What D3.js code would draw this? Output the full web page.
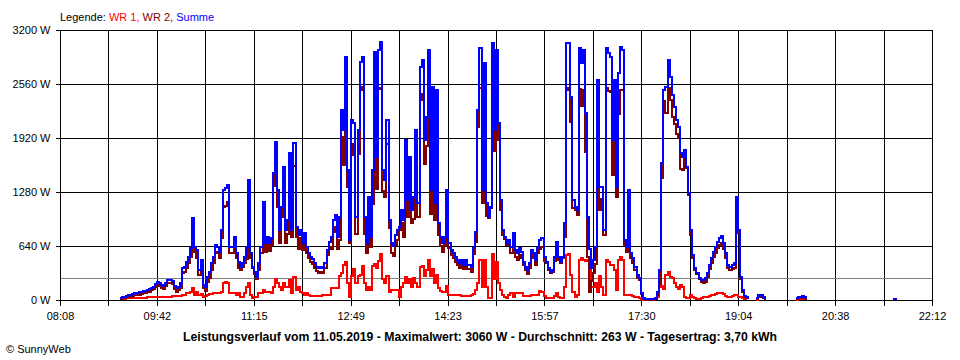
<!DOCTYPE html>
<html>
<head>
<meta charset="utf-8">
<script src="https://cdn.jsdelivr.net/npm/d3@7"></script>
<style>
  html, body { margin: 0; padding: 0; background: #ffffff; }
  svg { display: block; font-family: "Liberation Sans", Arial, sans-serif; }
</style>
</head>
<body>
<script>
// ---- data ----
const timeLabels = ["08:08","09:42","11:15","12:49","14:23","15:57","17:30","19:04","20:38","22:12"];
const yTicks = [0, 640, 1280, 1920, 2560, 3200];
const averageW = 263;
const startTime = "09:04";   // first sample
const stepMinutes = 2;       // sampling interval

const summe = [
0,25,40,40,50,60,60,70,80,80,
90,100,105,107,119,130,146,158,190,217,
205,178,170,205,237,237,229,170,138,158,
198,375,395,454,513,612,968,632,593,355,
474,178,158,276,336,434,513,652,632,573,
830,1304,1323,1363,632,632,750,553,454,395,
434,513,632,1422,553,395,336,276,434,632,
1165,672,750,672,731,1501,1876,1304,830,1106,
1580,830,948,1738,830,1857,869,770,830,672,
790,632,553,506,482,434,395,375,387,375,
434,593,691,750,948,1007,750,988,2252,2015,
2884,1540,711,2133,2094,988,2015,2824,2884,988,
672,1225,750,1540,2943,1700,2963,3060,1540,1422,
2133,948,672,640,770,830,869,1067,948,1896,
1185,1700,1067,1225,2015,1146,2765,2844,1896,2173,
2963,1304,2528,1146,2489,909,750,672,750,1304,
672,593,553,514,474,435,474,415,474,415,
415,387,612,810,2252,2982,1304,2805,1146,988,
1106,3042,2015,2963,2094,1185,830,750,672,711,
632,790,593,553,612,573,454,395,356,435,
593,553,474,612,711,731,514,454,375,336,
356,514,691,514,454,514,909,3042,3042,2410,
1185,1106,1067,2982,2805,2963,2212,988,600,375,
474,632,2607,1343,1343,830,2982,2923,2884,1896,
2607,1343,2686,3002,2963,711,632,1304,553,494,
395,296,257,79,20,8,8,8,8,8,
20,99,355,1620,2489,2520,2844,2646,2429,2291,
2133,2054,1738,1699,1778,1580,1264,830,533,375,
316,257,237,237,257,316,415,494,573,632,
691,731,758,672,553,415,395,415,435,1225,
830,276,120,50,30,10,0,0,0,20,
60,60,40,10,0,0,0,0,0,0,
0,0,0,15,0,0,0,0,20,40,
40,45,30,10,0,0,0,0,0,0,
0,0,0,0,0,0,0,0,0,0,
0,0,0,0,0,0,0,0,0,0,
0,0,0,0,0,0,0,0,0,0,
0,0,0,0,0,12,12,12
];

const wr1 = [
0,10,15,15,20,20,20,25,25,25,
25,25,25,25,30,30,30,30,35,40,
40,40,40,40,40,40,45,45,45,45,
50,60,60,80,80,100,140,60,100,60,
70,40,50,60,70,75,80,80,80,80,
90,200,210,200,80,80,80,60,80,40,
40,80,150,200,60,20,30,30,80,80,
120,100,100,90,80,150,250,200,160,120,
200,160,160,240,80,270,120,160,100,80,
60,80,60,50,50,50,50,50,50,60,
60,60,60,140,140,140,140,280,320,420,
450,200,40,280,370,200,280,300,400,200,
120,150,120,400,430,380,460,550,250,200,
280,100,120,120,120,120,40,150,200,270,
200,250,160,260,200,160,390,400,280,350,
470,280,370,200,300,140,110,100,100,170,
60,60,60,60,60,60,45,45,45,45,
45,55,70,120,200,470,160,470,150,20,
20,550,250,450,200,120,60,30,20,60,
80,40,80,80,80,80,45,45,45,50,
60,60,55,60,110,100,50,20,20,20,
20,50,80,40,20,20,160,530,550,300,
100,40,60,480,500,470,460,480,500,150,
150,200,100,280,150,60,470,450,420,420,
360,120,480,510,480,60,60,60,60,50,
40,40,20,10,5,5,5,5,5,5,
10,40,160,170,130,300,330,270,260,200,
160,130,180,160,40,20,20,60,40,20,
10,10,20,30,40,40,50,60,60,70,
80,80,80,70,50,40,40,50,60,60,
40,30,20,10,5,0,0,0,0,5,
30,30,20,5,0,0,0,0,0,0,
0,0,0,5,0,0,0,0,5,15,
15,15,10,5,0,0,0,0,0,0,
0,0,0,0,0,0,0,0,0,0,
0,0,0,0,0,0,0,0,0,0,
0,0,0,0,0,0,0,0,0,0,
0,0,0,0,0,0,0,0
];

const wr2 = [
0,15,25,25,30,40,40,45,55,55,
65,75,80,82,89,100,116,128,155,177,
165,138,130,165,197,197,184,125,93,113,
148,315,335,374,433,512,828,572,493,295,
404,138,108,216,266,359,433,572,552,493,
740,1104,1113,1163,552,552,670,493,374,355,
394,433,482,1222,493,375,306,246,354,552,
1045,572,650,582,651,1351,1626,1104,670,986,
1380,670,788,1498,750,1587,749,610,730,592,
730,552,493,456,432,384,345,325,337,315,
374,533,631,610,808,867,610,708,1932,1595,
2434,1340,671,1853,1724,788,1735,2524,2484,788,
552,1075,630,1140,2513,1320,2503,2510,1290,1222,
1853,848,552,520,650,710,829,917,748,1626,
985,1450,907,965,1815,986,2375,2444,1616,1823,
2493,1024,2158,946,2189,769,640,572,650,1134,
612,533,493,454,414,375,429,370,429,370,
370,332,542,690,2052,2512,1144,2335,996,968,
1086,2492,1765,2513,1894,1065,770,720,652,651,
552,750,513,473,532,493,409,350,311,385,
533,493,419,552,601,631,464,434,355,316,
336,464,611,474,434,494,749,2512,2492,2110,
1085,1066,1007,2502,2305,2493,1752,508,100,225,
324,432,2507,1063,1193,770,2512,2473,2464,1476,
2247,1223,2206,2492,2483,651,572,1244,493,444,
355,256,237,69,15,3,3,3,3,3,
10,59,195,1450,2359,2220,2514,2376,2169,2091,
1973,1924,1558,1539,1738,1560,1244,770,493,355,
306,247,217,207,217,276,365,434,513,562,
611,651,678,602,503,375,355,365,375,1165,
790,246,100,40,25,10,0,0,0,15,
30,30,20,5,0,0,0,0,0,0,
0,0,0,10,0,0,0,0,15,25,
25,30,20,5,0,0,0,0,0,0,
0,0,0,0,0,0,0,0,0,0,
0,0,0,0,0,0,0,0,0,0,
0,0,0,0,0,0,0,0,0,0,
0,0,0,0,0,12,12,12
];

const titleText = "Leistungsverlauf vom 11.05.2019 - Maximalwert: 3060 W - Durchschnitt: 263 W - Tagesertrag: 3,70 kWh";

// ---- chart ----
(function () {
const W = 960, H = 360;
const mLeft = 60, mRight = 932, mTop = 30, mBottom = 300;
const toMin = s => { const [h, m] = s.split(":").map(Number); return h * 60 + m; };
const t0 = toMin(timeLabels[0]);
const tEnd = toMin(timeLabels[timeLabels.length - 1]);
const span = tEnd - t0;
const startOffset = toMin(startTime) - t0;

const x = d3.scaleLinear().domain([0, span]).range([mLeft, mRight]);
const y = d3.scaleLinear().domain([0, 3200]).range([mBottom, mTop]);

const svg = d3.select("body").append("svg").attr("width", W).attr("height", H);
svg.append("rect").attr("width", W).attr("height", H).attr("fill", "#fff");

const nGrid = (timeLabels.length - 1) * 2;
const gridMinutes = d3.range(nGrid + 1).map(k => k * span / nGrid);

// grid
const grid = svg.append("g").attr("shape-rendering", "crispEdges");
grid.selectAll("line.v").data(gridMinutes).join("line")
  .attr("x1", d => Math.round(x(d)) + 0.5).attr("x2", d => Math.round(x(d)) + 0.5)
  .attr("y1", mTop).attr("y2", mBottom)
  .attr("stroke", "#000").attr("stroke-width", 1);
grid.selectAll("line.h").data(yTicks).join("line")
  .attr("x1", mLeft).attr("x2", mRight + 1)
  .attr("y1", d => Math.round(y(d)) + 0.5).attr("y2", d => Math.round(y(d)) + 0.5)
  .attr("stroke", "#000").attr("stroke-width", 1);
// average line
grid.append("line")
  .attr("x1", mLeft + 1).attr("x2", mRight)
  .attr("y1", Math.round(y(averageW)) + 0.5).attr("y2", Math.round(y(averageW)) + 0.5)
  .attr("stroke", "#808080").attr("stroke-width", 1);

// axes
const yAxis = d3.axisLeft(y).tickValues(yTicks).tickSize(5).tickPadding(5)
  .tickFormat(d => d + " W");
const gy = svg.append("g").attr("transform", `translate(${mLeft + 0.5},0)`).call(yAxis);
gy.select(".domain").remove();
gy.selectAll("line").attr("stroke", "#000").attr("shape-rendering", "crispEdges");
gy.selectAll("text").attr("font-size", 11).attr("fill", "#000")
  .attr("font-family", '"Liberation Sans", Arial, sans-serif');

const xAxis = d3.axisBottom(x).tickValues(gridMinutes).tickSize(5).tickPadding(7)
  .tickFormat((d, k) => k % 2 === 0 ? timeLabels[k / 2] : "");
const gx = svg.append("g").attr("transform", `translate(0,${mBottom + 0.5})`).call(xAxis);
gx.select(".domain").remove();
gx.selectAll("line").attr("stroke", "#000").attr("shape-rendering", "crispEdges");
gx.selectAll("text").attr("font-size", 11).attr("fill", "#000")
  .attr("font-family", '"Liberation Sans", Arial, sans-serif');

// series
const tOf = i => startOffset + i * stepMinutes;
const line = d3.line()
  .defined(d => d > 0)
  .x((d, i) => x(tOf(i)))
  .y(d => y(d))
  .curve(d3.curveStepAfter);

const series = [
  { name: "WR 1", values: wr1, color: "#ff0000" },
  { name: "WR 2", values: wr2, color: "#800000" },
  { name: "Summe", values: summe, color: "#0000ff" }
];
svg.append("g").selectAll("path").data(series).join("path")
  .attr("d", s => line(s.values))
  .attr("fill", "none")
  .attr("stroke", s => s.color)
  .attr("stroke-width", 2)
  .attr("stroke-linejoin", "miter")
  .attr("shape-rendering", "crispEdges");

// legend
const leg = svg.append("text").attr("x", 60).attr("y", 21).attr("font-size", 11);
leg.append("tspan").attr("fill", "#000").text("Legende: ");
series.forEach((s, k) => {
  leg.append("tspan").attr("fill", s.color).text(s.name + (k < series.length - 1 ? ", " : ""));
});

// title
svg.append("text").attr("x", 480).attr("y", 341).attr("text-anchor", "middle")
  .attr("font-size", 12).attr("font-weight", "bold").attr("fill", "#000")
  .attr("textLength", 594).attr("lengthAdjust", "spacingAndGlyphs")
  .text(titleText);

// copyright
svg.append("text").attr("x", 6).attr("y", 353).attr("font-size", 11).attr("fill", "#000")
  .text("\u00A9 SunnyWeb");
})();
</script>
</body>
</html>
